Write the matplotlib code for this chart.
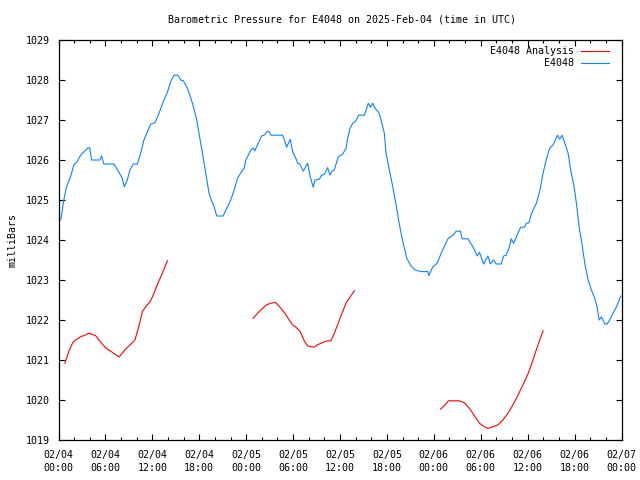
"""
Barometric pressure for E4048, gnuplot-style chart
"""

import numpy as np
import matplotlib
matplotlib.use("Agg")
import matplotlib.pyplot as plt
import matplotlib.dates as mdates

############################# Data #############################

start = np.datetime64("2025-02-04T00:00")

# hours since 02/04 00:00 UTC, pressure in mb
obs_hours = [0.29, 0.68, 1.02, 1.54, 1.96, 2.40, 2.82, 3.24, 3.75, 4.01, 4.23, 5.29, 5.51, 5.80,
             7.08, 7.72, 8.16, 8.42, 8.80, 9.13, 9.57, 10.08, 10.50, 10.93, 11.36, 11.79, 12.34,
             12.85, 13.16, 13.49, 13.93, 14.35, 14.77, 15.28, 15.63, 15.97, 16.49, 17.13, 17.64,
             17.97, 18.41, 18.83, 19.25, 19.47, 19.90, 20.24, 21.05, 21.61, 22.03, 22.46, 22.89,
             23.44, 23.74, 23.96, 24.60, 24.89, 25.11, 25.46, 25.97, 26.30, 26.65, 26.94, 27.16,
             28.66, 28.95, 29.17, 29.63, 29.94, 30.36, 30.58, 30.87, 31.30, 31.86, 32.19, 32.58,
             32.80, 33.35, 33.65, 33.99, 34.42, 34.72, 34.97, 35.27, 35.78, 36.34, 36.77, 36.98,
             37.28, 37.62, 37.96, 38.39, 39.11, 39.33, 39.62, 39.88, 40.19, 40.48, 40.96, 41.25,
             41.67, 41.89, 42.31, 42.75, 43.17, 43.60, 44.03, 44.54, 45.09, 45.61, 46.38, 47.23,
             47.36, 47.87, 48.42, 48.94, 49.80, 50.44, 50.86, 51.41, 51.63, 52.36, 53.00, 53.55,
             53.84, 54.36, 54.92, 55.21, 55.64, 55.98, 56.62, 56.92, 57.26, 57.61, 57.90, 58.20,
             58.76, 59.10, 59.61, 59.83, 60.17, 60.47, 61.11, 61.53, 61.97, 62.39, 62.81, 63.25,
             63.54, 63.80, 64.09, 64.40, 64.82, 65.17, 65.50, 65.94, 66.23, 66.58, 66.96, 67.30,
             67.73, 68.15, 68.58, 68.88, 69.14, 69.43, 69.86, 70.16, 70.50, 70.93, 71.36, 71.91]
obs_mb = [1024.5, 1025.0, 1025.33, 1025.58, 1025.88, 1025.96, 1026.12, 1026.2, 1026.3, 1026.3,
          1026.0, 1026.0, 1026.1, 1025.9, 1025.9, 1025.7, 1025.54, 1025.33, 1025.5, 1025.75,
          1025.9, 1025.9, 1026.17, 1026.5, 1026.7, 1026.9, 1026.93, 1027.17, 1027.33, 1027.5,
          1027.7, 1027.96, 1028.12, 1028.12, 1028.0, 1027.98, 1027.79, 1027.42, 1027.04,
          1026.67, 1026.17, 1025.67, 1025.17, 1025.04, 1024.83, 1024.6, 1024.6, 1024.83,
          1025.0, 1025.25, 1025.54, 1025.72, 1025.79, 1026.0, 1026.25, 1026.3, 1026.23,
          1026.38, 1026.6, 1026.62, 1026.71, 1026.71, 1026.62, 1026.62, 1026.47, 1026.32,
          1026.52, 1026.21, 1026.04, 1025.92, 1025.9, 1025.72, 1025.92, 1025.58, 1025.32,
          1025.5, 1025.52, 1025.62, 1025.64, 1025.81, 1025.62, 1025.72, 1025.75, 1026.08,
          1026.15, 1026.29, 1026.54, 1026.79, 1026.92, 1026.96, 1027.12, 1027.12, 1027.25,
          1027.42, 1027.32, 1027.42, 1027.29, 1027.19, 1027.0, 1026.67, 1026.17, 1025.75,
          1025.33, 1024.88, 1024.38, 1023.96, 1023.54, 1023.35, 1023.25, 1023.21, 1023.21,
          1023.11, 1023.33, 1023.42, 1023.67, 1024.03, 1024.12, 1024.22, 1024.22, 1024.03,
          1024.03, 1023.83, 1023.6, 1023.69, 1023.4, 1023.6, 1023.4, 1023.5, 1023.4, 1023.4,
          1023.6, 1023.62, 1023.79, 1024.03, 1023.92, 1024.17, 1024.32, 1024.32, 1024.42,
          1024.43, 1024.65, 1024.92, 1025.21, 1025.67, 1026.02, 1026.29, 1026.38, 1026.5,
          1026.62, 1026.52, 1026.62, 1026.38, 1026.17, 1025.75, 1025.33, 1024.92, 1024.33,
          1023.88, 1023.42, 1023.0, 1022.75, 1022.54, 1022.33, 1022.0, 1022.08, 1021.9,
          1021.9, 1022.0, 1022.18, 1022.33, 1022.6]

# analysis comes in three separate runs
ana1_hours = [0.81, 1.32, 1.83, 2.31, 2.82, 3.37, 3.88, 4.32, 4.74, 5.17, 5.68, 6.24, 6.75,
              7.17, 7.77, 8.16, 8.67, 9.22, 9.78, 10.08, 10.38, 10.72, 11.15, 11.79, 12.21,
              12.72, 13.28, 13.93]
ana1_mb = [1020.92, 1021.21, 1021.44, 1021.52, 1021.58, 1021.62, 1021.67, 1021.64, 1021.61,
           1021.5, 1021.38, 1021.27, 1021.21, 1021.15, 1021.08, 1021.17, 1021.29, 1021.39,
           1021.5, 1021.71, 1021.92, 1022.21, 1022.33, 1022.48, 1022.67, 1022.92, 1023.17,
           1023.48]

ana2_hours = [24.89, 25.46, 26.09, 26.61, 27.16, 27.71, 28.02, 28.44, 28.95, 29.50, 29.94,
              30.36, 30.92, 31.43, 31.86, 32.63, 33.14, 33.78, 34.42, 34.85, 35.27, 35.78,
              36.25, 36.77, 37.32, 37.83]
ana2_mb = [1022.04, 1022.17, 1022.29, 1022.38, 1022.42, 1022.44, 1022.39, 1022.29, 1022.17,
           1022.0, 1021.88, 1021.82, 1021.71, 1021.48, 1021.35, 1021.32, 1021.38, 1021.44,
           1021.48, 1021.48, 1021.67, 1021.92, 1022.17, 1022.42, 1022.58, 1022.73]

ana3_hours = [48.85, 49.36, 49.87, 51.28, 51.92, 52.56, 53.20, 53.84, 54.48, 54.92, 55.56,
              56.20, 56.84, 57.48, 58.12, 58.76, 59.40, 60.04, 60.68, 61.32, 61.97]
ana3_mb = [1019.77, 1019.86, 1019.98, 1019.98, 1019.93, 1019.79, 1019.6, 1019.42, 1019.33,
           1019.29, 1019.33, 1019.38, 1019.5, 1019.67, 1019.88, 1020.12, 1020.38, 1020.65,
           1021.0, 1021.38, 1021.73]


def to_time(hours):
    return start + (np.array(hours) * 3600).astype("timedelta64[s]")

#################################################################

plt.rcParams["font.family"] = "DejaVu Sans Mono"
plt.rcParams["font.size"] = 7.2

RED = "#ff0000"
BLUE = "#0a84ff"

fig = plt.figure(figsize=(6.4, 4.8), dpi=100)
ax = fig.add_axes([58.5 / 640, 40 / 480, 563 / 640, 400 / 480])

for h, v in [(ana1_hours, ana1_mb), (ana2_hours, ana2_mb), (ana3_hours, ana3_mb)]:
    ax.plot(to_time(h), v, color=RED, linewidth=0.8)
ax.plot(to_time(obs_hours), obs_mb, color=BLUE, linewidth=0.8)

ax.set_xlim(start, start + np.timedelta64(72, "h"))
ax.set_ylim(1019, 1029)
ax.set_yticks(range(1019, 1030))

ax.xaxis.set_major_locator(mdates.HourLocator(byhour=range(0, 24, 6)))
ax.xaxis.set_minor_locator(mdates.HourLocator(byhour=range(0, 24, 2)))
ax.xaxis.set_major_formatter(mdates.DateFormatter("%m/%d\n%H:%M"))

ax.tick_params(which="both", direction="in", top=True, right=True, width=0.8)
ax.tick_params(which="major", length=4.5)
ax.tick_params(which="minor", length=2.2)
ax.tick_params(axis="x", which="major", pad=7)
ax.tick_params(axis="y", which="major", pad=6)
for lbl in ax.get_xticklabels():
    lbl.set_linespacing(1.35)
for s in ax.spines.values():
    s.set_linewidth(0.9)

ax.set_ylabel("milliBars", labelpad=6)
fig.text(0.534, 1 - 20 / 480, "Barometric Pressure for E4048 on 2025-Feb-04 (time in UTC)",
         ha="center", va="center")

# gnuplot style key: right aligned text, sample line on the right
tr = ax.transAxes
for row, (name, c) in enumerate([("E4048 Analysis", RED), ("E4048", BLUE)]):
    yy = 1 - (11 + 11.7 * row) / 400
    ax.text((574 - 58.5) / 563, yy, name, transform=tr, ha="right", va="center")
    ax.plot([(581 - 58.5) / 563, (609 - 58.5) / 563], [yy, yy], color=c,
            linewidth=0.8, transform=tr)

fig.savefig("out.png", dpi=100)
